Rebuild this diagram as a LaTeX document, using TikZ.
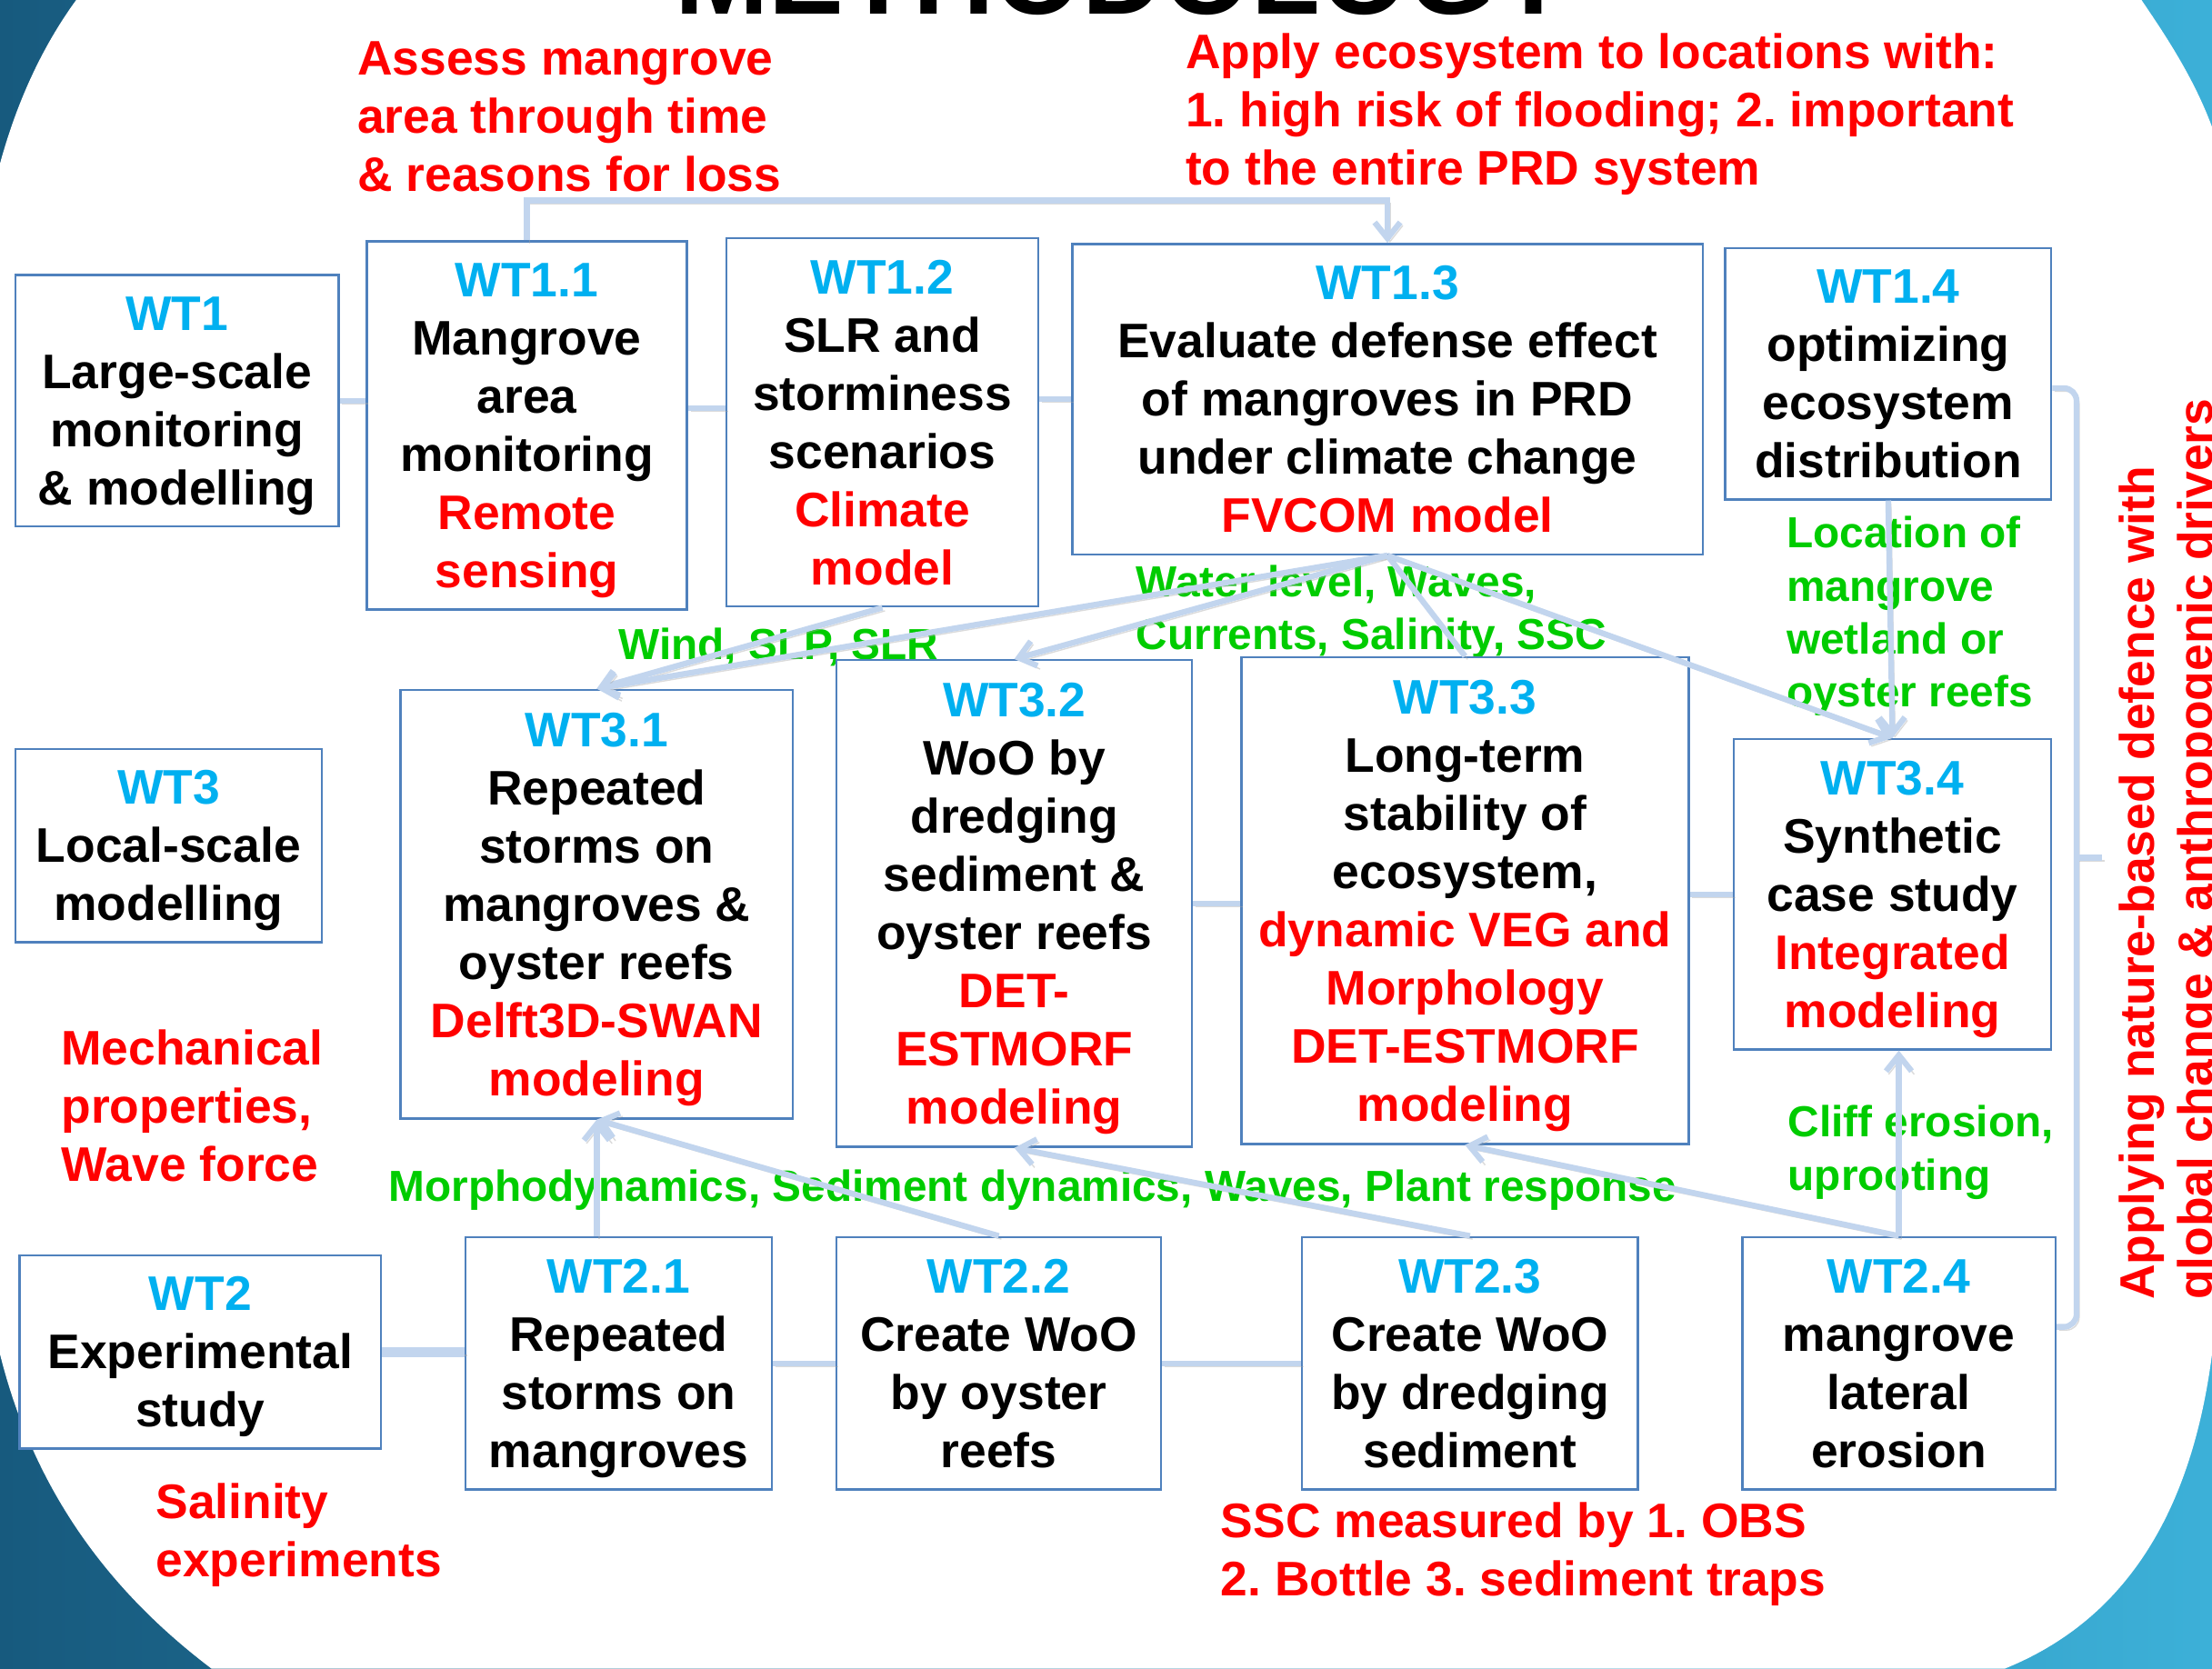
\documentclass[tikz,border=0pt]{standalone}
\usepackage{fontspec}
\setmainfont{Liberation Sans}
\usetikzlibrary{arrows.meta}
\frenchspacing
\definecolor{boxblue}{RGB}{79,129,189}
\definecolor{linkblue}{RGB}{194,213,238}
\definecolor{wtcyan}{RGB}{0,176,240}
\definecolor{labgreen}{RGB}{0,204,0}
\definecolor{labred}{RGB}{255,0,0}
\definecolor{bgdark}{RGB}{23,90,126}
\definecolor{bglight}{RGB}{60,176,216}
\newcommand{\px}{0.015517cm}
\newcommand{\boxfont}{\fontsize{15.2}{18.2}\selectfont\bfseries}
\newcommand{\labfont}{\fontsize{13.6}{16.6}\selectfont\bfseries}
\newcommand{\wt}[1]{\textcolor{wtcyan}{#1}}
\newcommand{\rd}[1]{\textcolor{labred}{\smash{#1}}}
\newcommand{\bk}[1]{\smash{#1}}
\newcommand{\taskbox}[6]{\node[taskbox, minimum width={(#4-#2)*\px}, minimum height={(#5-#3)*\px}]
  (#1) at ({(#2+#4)/2},{(#3+#5)/2}) {#6};}
\tikzset{
  taskbox/.style={draw=boxblue, line width=0.7pt, fill=white, inner sep=0pt, align=center, font=\boxfont},
  redlab/.style={text=labred, align=left, anchor=west, inner sep=0pt, font=\boxfont},
  greenlab/.style={text=labgreen, align=left, anchor=west, inner sep=0pt, font=\labfont},
  link/.style={draw=linkblue, line width=1.8pt,
    preaction={draw=black!35, opacity=.4, transform canvas={shift={(.8pt,-1pt)}}}},
  flow/.style={link, -{Straight Barb[length=5pt,width=8pt]}}
}

\begin{document}
\begin{tikzpicture}[x=\px, y=-\px]
\useasboundingbox (0,0) rectangle (1568,1183);
\shade[left color=bgdark, right color=bglight] (0,0) rectangle (1568,1183);
\fill[white] (54,0) -- (1518,0) .. controls (1535,25) and (1555,55) .. (1568,90) -- (1568,960)
  .. controls (1555,1060) and (1515,1145) .. (1421,1183) -- (150,1183)
  .. controls (80,1130) and (25,1060) .. (0,960) -- (0,116) .. controls (12,72) and (30,33) .. (54,0) -- cycle;
\node[anchor=base west, inner sep=0pt, font=\fontsize{35.3}{40}\selectfont\bfseries] (title) at (478,10) {METHODOLOGY};
\node[redlab] (assess) at (253,83) {Assess mangrove\\area through time\\\& reasons for loss};
\node[redlab] (apply) at (840,81) {Apply ecosystem to locations with:\\1. high risk of flooding; 2. important\\to the entire PRD system};
\node[greenlab] (locat) at (1266,437) {Location of\\mangrove\\wetland or\\oyster reefs};
\node[greenlab] (wind) at (438,459) {Wind, SLP, SLR};
\node[greenlab] (water) at (805,434) {Water level, Waves,\\Currents, Salinity, SSC};
\node[greenlab] (morpho) at (275,844) {Morphodynamics, Sediment dynamics, Waves, Plant response};
\node[greenlab] (cliff) at (1267,817) {Cliff erosion,\\uprooting};
\node[redlab] (mech) at (43,784) {Mechanical\\properties,\\Wave force};
\node[redlab] (salin) at (110,1088) {Salinity\\experiments};
\node[redlab] (ssc) at (865,1102) {SSC measured by 1. OBS\\2. Bottle 3. sediment traps};
\node[redlab, rotate=90] (nbd) at (1539,922) {Applying nature-based defence with\\global change \& anthropogenic drivers};
\taskbox{wt1}{11}{195}{240}{373}{\wt{WT1}\\Large-scale\\monitoring\\\bk{\& modelling}}
\taskbox{wt11}{260}{171}{487}{432}{\wt{WT1.1}\\Mangrove\\area\\monitoring\\\rd{Remote}\\\rd{sensing}}
\taskbox{wt12}{515}{169}{736}{430}{\wt{WT1.2}\\SLR and\\storminess\\scenarios\\\rd{Climate}\\\rd{model}}
\taskbox{wt13}{760}{173}{1207}{393}{\wt{WT1.3}\\Evaluate defense effect\\of mangroves in PRD\\under climate change\\\rd{FVCOM model}}
\taskbox{wt14}{1223}{176}{1454}{354}{\wt{WT1.4}\\optimizing\\ecosystem\\\bk{distribution}}
\taskbox{wt3}{11}{531}{228}{668}{\wt{WT3}\\Local-scale\\\bk{modelling}}
\taskbox{wt31}{284}{489}{562}{793}{\wt{WT3.1}\\Repeated\\storms on\\mangroves \&\\oyster reefs\\\rd{Delft3D-SWAN}\\\rd{modeling}}
\taskbox{wt32}{593}{468}{845}{813}{\wt{WT3.2}\\WoO by\\dredging\\sediment \&\\oyster reefs\\\rd{DET-}\\\rd{ESTMORF}\\\rd{modeling}}
\taskbox{wt33}{880}{466}{1197}{811}{\wt{WT3.3}\\Long-term\\stability of\\ecosystem,\\\rd{dynamic VEG and}\\\rd{Morphology}\\\rd{DET-ESTMORF}\\\rd{modeling}}
\taskbox{wt34}{1229}{524}{1454}{744}{\wt{WT3.4}\\Synthetic\\case study\\\rd{Integrated}\\\rd{modeling}}
\taskbox{wt2}{14}{890}{270}{1027}{\wt{WT2}\\Experimental\\\bk{study}}
\taskbox{wt21}{330}{877}{547}{1056}{\wt{WT2.1}\\Repeated\\storms on\\\bk{mangroves}}
\taskbox{wt22}{593}{877}{823}{1056}{\wt{WT2.2}\\Create WoO\\by oyster\\\bk{reefs}}
\taskbox{wt23}{923}{877}{1161}{1056}{\wt{WT2.3}\\Create WoO\\by dredging\\\bk{sediment}}
\taskbox{wt24}{1235}{877}{1457}{1056}{\wt{WT2.4}\\mangrove\\lateral\\\bk{erosion}}
\coordinate (topbar) at (0,142);
\coordinate (bracex) at (1472,0);
\coordinate (bracetip) at (1490,608);
\draw[flow] (wt11.north) -- (wt11.north |- topbar) -| (wt13.north);
\draw[link] (wt1.east) -- (wt1.east -| wt11.west);
\draw[link] (wt11.6) -- (wt11.6 -| wt12.west);
\draw[link] (wt12.east |- wt13.west) -- (wt13.west);
\draw[flow] (wt12.south) -- (wt31.north);
\draw[flow] (wt13.south) -- (wt31.north);
\draw[flow] (wt13.south) -- (wt32.north);
\draw[link] (wt13.south) -- (wt33.north);
\draw[flow] (wt13.south) -- (wt34.north);
\draw[flow] (wt14.south) -- (wt34.north);
\draw[link] (wt32.east) -- (wt32.east -| wt33.west);
\draw[link] (wt33.east |- wt34.west) -- (wt34.west);
\draw[link, line width=3pt] (wt2.east) -- (wt2.east -| wt21.west);
\draw[link] (wt21.east) -- (wt22.west);
\draw[link] (wt22.east) -- (wt23.west);
\draw[flow] (wt31.south |- wt21.north) -- (wt31.south);
\draw[flow] (wt22.north) -- (wt31.south);
\draw[flow] (wt23.north) -- (wt32.south);
\draw[flow] (wt24.north) -- (wt33.south);
\draw[flow] (wt24.north) -- (wt24.north |- wt34.south);
\draw[link, rounded corners=4] (wt14.-5) -| (bracex |- wt24.13) -- (wt24.13);
\draw[link] (bracex |- bracetip) -- (bracetip);
\end{tikzpicture}
\end{document}
